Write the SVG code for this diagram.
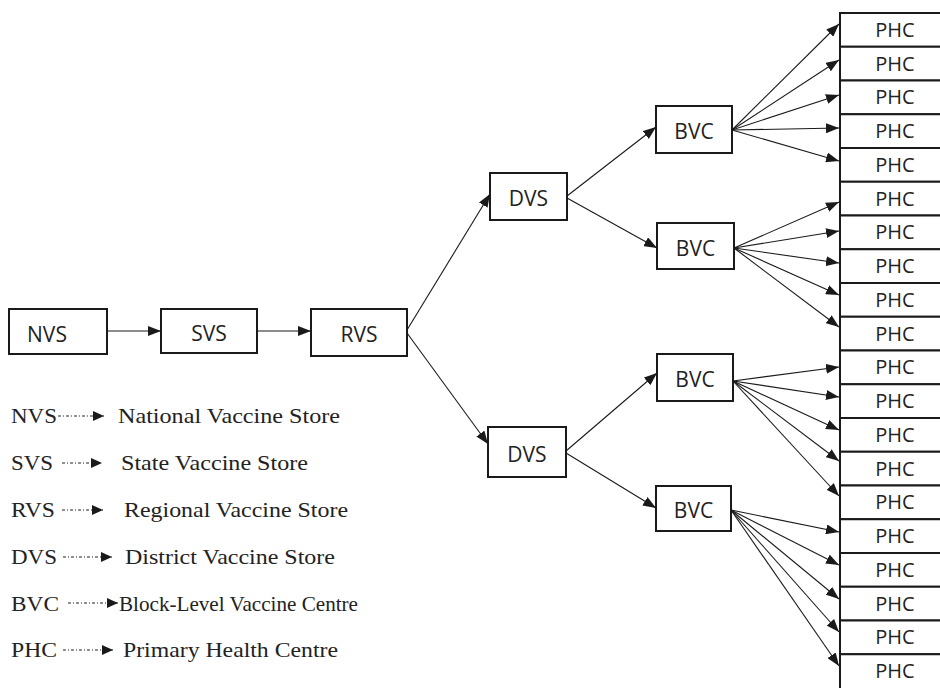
<svg xmlns="http://www.w3.org/2000/svg" width="940" height="688" viewBox="0 0 940 688">
<style>
.box{fill:#fff;stroke:#1a1a1a;stroke-width:2}
.nt{font-family:"Open Sans","Liberation Sans",sans-serif;font-size:21px;fill:#222;text-anchor:middle}
.pt{font-family:"Open Sans","Liberation Sans",sans-serif;font-size:20px;fill:#222;text-anchor:middle}
.con{stroke:#1a1a1a;stroke-width:1.1;fill:none;marker-end:url(#ah)}
.lt{font-family:"Liberation Serif","Times New Roman",serif;font-size:22px;fill:#222}
.lc{stroke:#222;stroke-width:1;stroke-dasharray:3 2 1 2;fill:none;marker-end:url(#lh)}
</style>
<defs>
<marker id="ah" markerUnits="userSpaceOnUse" markerWidth="14" markerHeight="10" refX="13" refY="5" orient="auto"><path d="M0,0 L13,5 L0,10 z" fill="#1a1a1a"/></marker>
<marker id="lh" markerUnits="userSpaceOnUse" markerWidth="12" markerHeight="11" refX="11" refY="5" orient="auto"><path d="M0,0 L11,5 L0,10 z" fill="#1a1a1a"/></marker>
</defs>
<rect width="940" height="688" fill="#fff"/>
<g id="connectors">
<line class="con" x1="107" y1="331" x2="161" y2="331"/>
<line class="con" x1="257" y1="331" x2="311" y2="331"/>
<line class="con" x1="407" y1="330" x2="490" y2="194"/>
<line class="con" x1="407" y1="333" x2="488" y2="444"/>
<line class="con" x1="567" y1="196" x2="656" y2="127"/>
<line class="con" x1="567" y1="198" x2="657" y2="248"/>
<line class="con" x1="566" y1="451" x2="657" y2="373"/>
<line class="con" x1="566" y1="453" x2="656" y2="508"/>
<line class="con" x1="732" y1="130" x2="839" y2="24"/>
<line class="con" x1="732" y1="130" x2="839" y2="60"/>
<line class="con" x1="732" y1="130" x2="839" y2="95"/>
<line class="con" x1="732" y1="130" x2="839" y2="128"/>
<line class="con" x1="732" y1="130" x2="839" y2="161"/>
<line class="con" x1="734" y1="248" x2="839" y2="202"/>
<line class="con" x1="734" y1="248" x2="839" y2="231"/>
<line class="con" x1="734" y1="248" x2="839" y2="263"/>
<line class="con" x1="734" y1="248" x2="839" y2="295"/>
<line class="con" x1="734" y1="248" x2="839" y2="327"/>
<line class="con" x1="733" y1="381" x2="839" y2="367"/>
<line class="con" x1="733" y1="381" x2="839" y2="397"/>
<line class="con" x1="733" y1="381" x2="839" y2="430"/>
<line class="con" x1="733" y1="381" x2="839" y2="461"/>
<line class="con" x1="733" y1="381" x2="839" y2="496"/>
<line class="con" x1="731" y1="510" x2="839" y2="532"/>
<line class="con" x1="731" y1="510" x2="839" y2="565"/>
<line class="con" x1="731" y1="510" x2="839" y2="599"/>
<line class="con" x1="731" y1="510" x2="839" y2="632"/>
<line class="con" x1="731" y1="510" x2="839" y2="666"/>
</g>
<g id="nvs"><rect class="box" x="9" y="309" width="98" height="45"/><text class="nt" x="47" y="342">NVS</text></g>
<g id="svs"><rect class="box" x="161" y="309" width="96" height="44"/><text class="nt" x="209" y="341">SVS</text></g>
<g id="rvs"><rect class="box" x="311" y="309" width="96" height="47"/><text class="nt" x="359" y="342">RVS</text></g>
<g id="dvs1"><rect class="box" x="490" y="173" width="77" height="47"/><text class="nt" x="528.5" y="206">DVS</text></g>
<g id="dvs2"><rect class="box" x="488" y="427" width="78" height="50"/><text class="nt" x="527" y="462">DVS</text></g>
<g id="bvc1"><rect class="box" x="656" y="106" width="76" height="47"/><text class="nt" x="694" y="139">BVC</text></g>
<g id="bvc2"><rect class="box" x="657" y="223" width="77" height="46"/><text class="nt" x="695.5" y="256">BVC</text></g>
<g id="bvc3"><rect class="box" x="657" y="354" width="76" height="47"/><text class="nt" x="695" y="387">BVC</text></g>
<g id="bvc4"><rect class="box" x="656" y="486" width="75" height="45"/><text class="nt" x="693.5" y="518">BVC</text></g>
<g id="phc1"><rect class="box" x="840" y="13" width="110" height="33.75"/><text class="pt" x="895" y="37">PHC</text></g>
<g id="phc2"><rect class="box" x="840" y="46.75" width="110" height="33.75"/><text class="pt" x="895" y="70.6">PHC</text></g>
<g id="phc3"><rect class="box" x="840" y="80.5" width="110" height="33.75"/><text class="pt" x="895" y="104.4">PHC</text></g>
<g id="phc4"><rect class="box" x="840" y="114.25" width="110" height="33.75"/><text class="pt" x="895" y="138.1">PHC</text></g>
<g id="phc5"><rect class="box" x="840" y="148" width="110" height="33.75"/><text class="pt" x="895" y="171.9">PHC</text></g>
<g id="phc6"><rect class="box" x="840" y="181.75" width="110" height="33.75"/><text class="pt" x="895" y="205.6">PHC</text></g>
<g id="phc7"><rect class="box" x="840" y="215.5" width="110" height="33.75"/><text class="pt" x="895" y="239.4">PHC</text></g>
<g id="phc8"><rect class="box" x="840" y="249.25" width="110" height="33.75"/><text class="pt" x="895" y="273.1">PHC</text></g>
<g id="phc9"><rect class="box" x="840" y="283" width="110" height="33.75"/><text class="pt" x="895" y="306.9">PHC</text></g>
<g id="phc10"><rect class="box" x="840" y="316.75" width="110" height="33.75"/><text class="pt" x="895" y="340.6">PHC</text></g>
<g id="phc11"><rect class="box" x="840" y="350.5" width="110" height="33.75"/><text class="pt" x="895" y="374.4">PHC</text></g>
<g id="phc12"><rect class="box" x="840" y="384.25" width="110" height="33.75"/><text class="pt" x="895" y="408.1">PHC</text></g>
<g id="phc13"><rect class="box" x="840" y="418" width="110" height="33.75"/><text class="pt" x="895" y="441.9">PHC</text></g>
<g id="phc14"><rect class="box" x="840" y="451.75" width="110" height="33.75"/><text class="pt" x="895" y="475.6">PHC</text></g>
<g id="phc15"><rect class="box" x="840" y="485.5" width="110" height="33.75"/><text class="pt" x="895" y="509.4">PHC</text></g>
<g id="phc16"><rect class="box" x="840" y="519.25" width="110" height="33.75"/><text class="pt" x="895" y="543.1">PHC</text></g>
<g id="phc17"><rect class="box" x="840" y="553" width="110" height="33.75"/><text class="pt" x="895" y="576.9">PHC</text></g>
<g id="phc18"><rect class="box" x="840" y="586.75" width="110" height="33.75"/><text class="pt" x="895" y="610.6">PHC</text></g>
<g id="phc19"><rect class="box" x="840" y="620.5" width="110" height="33.75"/><text class="pt" x="895" y="644.4">PHC</text></g>
<g id="phc20"><rect class="box" x="840" y="654.25" width="110" height="40"/><text class="pt" x="895" y="678.1">PHC</text></g>
<g id="legend">
<text class="lt" x="11" y="423" textLength="46" lengthAdjust="spacingAndGlyphs">NVS</text>
<line class="lc" x1="58" y1="416" x2="104" y2="416"/>
<text class="lt" x="118" y="423" textLength="222" lengthAdjust="spacingAndGlyphs">National Vaccine Store</text>
<text class="lt" x="11" y="470" textLength="42" lengthAdjust="spacingAndGlyphs">SVS</text>
<line class="lc" x1="62" y1="463" x2="102" y2="463"/>
<text class="lt" x="121" y="470" textLength="187" lengthAdjust="spacingAndGlyphs">State Vaccine Store</text>
<text class="lt" x="11" y="517" textLength="44" lengthAdjust="spacingAndGlyphs">RVS</text>
<line class="lc" x1="62" y1="510" x2="103" y2="510"/>
<text class="lt" x="124" y="517" textLength="224" lengthAdjust="spacingAndGlyphs">Regional Vaccine Store</text>
<text class="lt" x="11" y="564" textLength="46" lengthAdjust="spacingAndGlyphs">DVS</text>
<line class="lc" x1="63" y1="557" x2="112" y2="557"/>
<text class="lt" x="125" y="564" textLength="210" lengthAdjust="spacingAndGlyphs">District Vaccine Store</text>
<text class="lt" x="11" y="611" textLength="48" lengthAdjust="spacingAndGlyphs">BVC</text>
<line class="lc" x1="68" y1="603" x2="118" y2="603"/>
<text class="lt" x="119" y="611" textLength="239" lengthAdjust="spacingAndGlyphs">Block-Level Vaccine Centre</text>
<text class="lt" x="11" y="657" textLength="46" lengthAdjust="spacingAndGlyphs">PHC</text>
<line class="lc" x1="63" y1="650" x2="113" y2="650"/>
<text class="lt" x="123" y="657" textLength="215" lengthAdjust="spacingAndGlyphs">Primary Health Centre</text>
</g>
</svg>
